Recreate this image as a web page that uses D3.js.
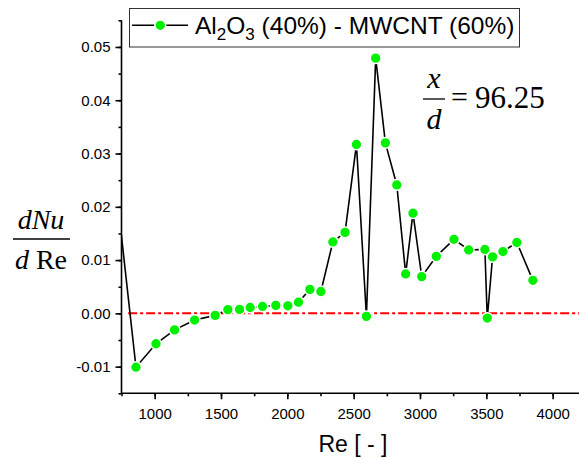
<!DOCTYPE html>
<meta charset="utf-8">
<script src="https://d3js.org/d3.v7.min.js"></script>
<style>
  body { margin: 0; background: #fff; }
</style>
<body>
<div id="chart"></div>
<script>
// data
var reValues = [700, 859, 1010, 1150, 1301, 1456, 1552, 1640, 1720, 1813, 1913, 2004, 2084,
  2170, 2253, 2343, 2435, 2521, 2596, 2666, 2739, 2825, 2892, 2947, 3013, 3123, 3256,
  3367, 3489, 3507, 3547, 3625, 3730, 3851];
var dNuValues = [0.0257, -0.0101, -0.0057, -0.0031, -0.00125, -0.00038, 0.0007, 0.00075,
  0.0011, 0.0013, 0.0015, 0.00142, 0.0021, 0.0045, 0.0041, 0.0134, 0.0152, 0.0317,
  -0.00056, 0.0479, 0.0320, 0.0241, 0.0074, 0.0188, 0.0069, 0.0107, 0.0139, 0.0119,
  0.0120, -0.00088, 0.0106, 0.0116, 0.0133, 0.0062];
var xTicks = [1000, 1500, 2000, 2500, 3000, 3500, 4000];
var yTicks = [-0.01, 0, 0.01, 0.02, 0.03, 0.04, 0.05];
var refLine = [800, 4200];

var data = reValues.map(function(d, i) { return {re: d, v: dNuValues[i]}; });

var W = 579, H = 458;
var pLeft = 121.5, pRight = 579.2, pTop = 20.3, pBottom = 393.3;
var sans = "'Liberation Sans', Arial, sans-serif";
var serif = "'Liberation Serif', 'Times New Roman', serif";

var svg = d3.select("#chart").append("svg")
  .attr("width", W).attr("height", H)
  .style("font-family", sans);

var x = d3.scaleLinear().domain([750, 4200]).range([pLeft, pRight]);
var y = d3.scaleLinear().domain([-0.015, 0.055]).range([pBottom, pTop]);

svg.append("clipPath").attr("id", "clip")
  .append("rect").attr("x", pLeft).attr("y", pTop - 8)
  .attr("width", pRight - pLeft).attr("height", pBottom - pTop + 8);

// zero line
svg.append("line")
  .attr("x1", x(refLine[0])).attr("x2", x(refLine[1]))
  .attr("y1", y(0)).attr("y2", y(0))
  .attr("stroke", "#ff0000").attr("stroke-width", 2)
  .attr("stroke-dasharray", "9,3,3,3");

var plot = svg.append("g").attr("clip-path", "url(#clip)");

plot.append("path")
  .datum(data)
  .attr("fill", "none")
  .attr("stroke", "#000")
  .attr("stroke-width", 1.6)
  .attr("d", d3.line().x(function(d) { return x(d.re); }).y(function(d) { return y(d.v); }));

plot.selectAll("circle")
  .data(data)
  .enter().append("circle")
  .attr("cx", function(d) { return x(d.re); })
  .attr("cy", function(d) { return y(d.v); })
  .attr("r", 5.4)
  .attr("fill", "#00f000")
  .attr("stroke", "#fff")
  .attr("stroke-width", 1.5);

// axes
var xMinor = svg.append("g").attr("transform", "translate(0," + pBottom + ")")
  .call(d3.axisBottom(x).tickValues(d3.range(750, 4201, 250)).tickSize(3).tickFormat(""));
xMinor.select(".domain").remove();
var xMajor = svg.append("g").attr("transform", "translate(0," + pBottom + ")")
  .call(d3.axisBottom(x).tickValues(xTicks).tickSize(6).tickSizeOuter(0).tickPadding(9).tickFormat(d3.format("d")));
xMajor.select(".domain").attr("d", "M" + pLeft + ",0H" + pRight);

var yMinor = svg.append("g").attr("transform", "translate(" + pLeft + ",0)")
  .call(d3.axisLeft(y).tickValues(d3.range(-0.015, 0.0551, 0.005)).tickSize(3).tickFormat(""));
yMinor.select(".domain").remove();
var yMajor = svg.append("g").attr("transform", "translate(" + pLeft + ",0)")
  .call(d3.axisLeft(y).tickValues(yTicks).tickSize(6).tickSizeOuter(0).tickPadding(5)
    .tickFormat(function(d) { return d3.format(".2f")(d).replace("\u2212", "-"); }));
yMajor.select(".domain").attr("d", "M0," + pTop + "V" + pBottom);

svg.selectAll(".tick text").style("font-size", "15px").style("font-family", sans).attr("fill", "#000");
svg.selectAll(".domain, .tick line").attr("stroke", "#000").attr("stroke-width", 1.6);

// x title
svg.append("text")
  .attr("x", 353).attr("y", 452)
  .attr("text-anchor", "middle")
  .style("font-size", "23px")
  .text("Re [ - ]");

// y title as fraction
svg.append("text")
  .attr("x", 41).attr("y", 229)
  .attr("text-anchor", "middle")
  .style("font-family", serif).style("font-size", "28px").style("font-style", "italic")
  .text("dNu");
svg.append("line")
  .attr("x1", 13).attr("x2", 70).attr("y1", 239).attr("y2", 239)
  .attr("stroke", "#000").attr("stroke-width", 1.3);
var dre = svg.append("text")
  .attr("x", 41).attr("y", 269)
  .attr("text-anchor", "middle")
  .style("font-family", serif).style("font-size", "28px");
dre.append("tspan").style("font-style", "italic").text("d");
dre.append("tspan").text(" Re");

// x/d annotation
svg.append("text")
  .attr("x", 434).attr("y", 88)
  .attr("text-anchor", "middle")
  .style("font-family", serif).style("font-size", "30px").style("font-style", "italic")
  .text("x");
svg.append("line")
  .attr("x1", 423).attr("x2", 445).attr("y1", 99).attr("y2", 99)
  .attr("stroke", "#000").attr("stroke-width", 1.3);
svg.append("text")
  .attr("x", 434).attr("y", 129)
  .attr("text-anchor", "middle")
  .style("font-family", serif).style("font-size", "30px").style("font-style", "italic")
  .text("d");
svg.append("text")
  .attr("x", 451).attr("y", 107)
  .style("font-family", serif).style("font-size", "30px")
  .text("=");
svg.append("text")
  .attr("x", 475).attr("y", 108)
  .style("font-family", serif).style("font-size", "31px")
  .text("96.25");

// legend
var lg = svg.append("g");
lg.append("rect")
  .attr("x", 129.5).attr("y", 8.5).attr("width", 390).attr("height", 38.5)
  .attr("fill", "#fff").attr("stroke", "#333").attr("stroke-width", 1);
lg.append("line")
  .attr("x1", 132).attr("x2", 188).attr("y1", 25.3).attr("y2", 25.3)
  .attr("stroke", "#000").attr("stroke-width", 1.6);
lg.append("circle")
  .attr("cx", 160.3).attr("cy", 25.3).attr("r", 5.4)
  .attr("fill", "#00f000").attr("stroke", "#fff").attr("stroke-width", 1.5);
var lt = lg.append("text").attr("x", 195).attr("y", 34).style("font-size", "24.5px");
lt.append("tspan").text("Al");
lt.append("tspan").style("font-size", "17px").attr("dy", 6).text("2");
lt.append("tspan").attr("dy", -6).text("O");
lt.append("tspan").style("font-size", "17px").attr("dy", 6).text("3");
lt.append("tspan").attr("dy", -6).text(" (40%) - MWCNT (60%)");
</script>
</body>
